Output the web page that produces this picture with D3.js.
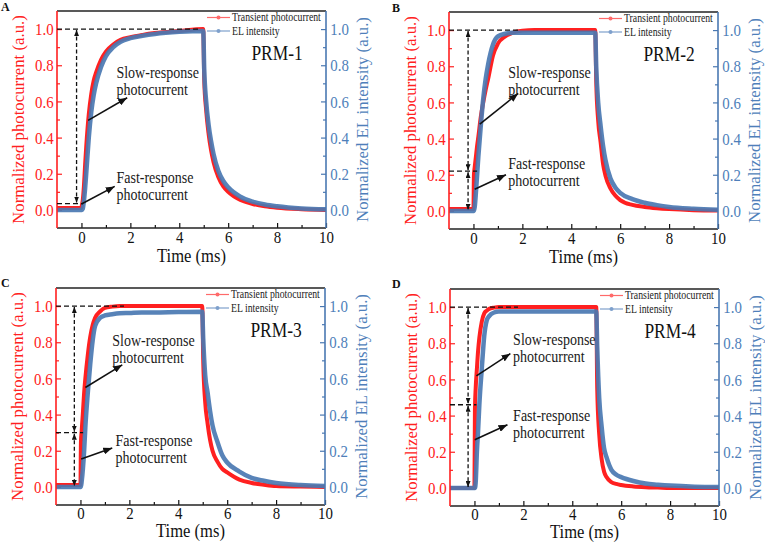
<!DOCTYPE html>
<html>
<head>
<meta charset="utf-8">
<script src="https://cdn.jsdelivr.net/npm/d3@7"></script>
<style>
  body { margin: 0; background: #fff; }
  svg text { font-family: "Liberation Serif", "Times New Roman", serif; }
</style>
</head>
<body>
<svg id="fig" width="765" height="542"></svg>
<script>
// time grid (ms) shared by all the curves
const times = [-1, 0, 0.02, 0.05, 0.1, 0.15, 0.2, 0.3, 0.4, 0.5, 0.6, 0.8, 1.0, 1.3, 1.6, 2, 2.5, 3, 4, 4.98,
               5.02, 5.1, 5.2, 5.3, 5.4, 5.6, 5.8, 6, 6.5, 7, 7.5, 8, 9, 10];

// transient photocurrent (red) and EL intensity (blue)
const pc1 = [0.01, 0.01, 0.03, 0.05, 0.13, 0.25, 0.36, 0.53, 0.64, 0.715, 0.76, 0.83, 0.875, 0.915, 0.94, 0.955, 0.968, 0.978, 0.99, 1.0,
             0.72, 0.55, 0.42, 0.33, 0.265, 0.18, 0.13, 0.1, 0.055, 0.033, 0.02, 0.012, 0.004, 0.0];
const el1 = [0, 0, 0, 0.005, 0.05, 0.12, 0.21, 0.4, 0.54, 0.635, 0.7, 0.79, 0.85, 0.9, 0.93, 0.95, 0.963, 0.973, 0.985, 0.99,
             0.78, 0.6, 0.47, 0.38, 0.31, 0.215, 0.16, 0.125, 0.073, 0.046, 0.03, 0.02, 0.008, 0.003];
const pc2 = [0.01, 0.01, 0.2, 0.24, 0.3, 0.36, 0.41, 0.52, 0.6, 0.67, 0.73, 0.86, 0.925, 0.965, 0.985, 0.997, 1.0, 1.0, 1.0, 1.0,
             0.72, 0.5, 0.38, 0.26, 0.195, 0.125, 0.085, 0.06, 0.033, 0.022, 0.015, 0.01, 0.004, 0.002];
const el2 = [0, 0, 0, 0.02, 0.1, 0.2, 0.3, 0.47, 0.62, 0.73, 0.81, 0.92, 0.965, 0.98, 0.985, 0.985, 0.985, 0.985, 0.985, 0.985,
             0.8, 0.6, 0.47, 0.36, 0.28, 0.18, 0.13, 0.1, 0.065, 0.045, 0.032, 0.022, 0.012, 0.006];
const pc3 = [0.01, 0.01, 0.25, 0.31, 0.41, 0.52, 0.6, 0.73, 0.83, 0.895, 0.935, 0.97, 0.99, 0.997, 1.0, 1.0, 1.0, 1.0, 1.0, 1.0,
             0.7, 0.47, 0.35, 0.26, 0.2, 0.14, 0.1, 0.08, 0.04, 0.022, 0.012, 0.005, 0.002, 0.0];
const el3 = [0, 0, 0, 0.03, 0.1, 0.2, 0.33, 0.52, 0.68, 0.81, 0.89, 0.935, 0.948, 0.955, 0.96, 0.962, 0.965, 0.965, 0.967, 0.968,
             0.82, 0.62, 0.52, 0.42, 0.34, 0.25, 0.175, 0.135, 0.085, 0.05, 0.034, 0.022, 0.01, 0.005];
const pc4 = [0, 0, 0.44, 0.55, 0.66, 0.76, 0.83, 0.92, 0.965, 0.98, 0.99, 0.997, 1.0, 1.0, 1.0, 1.0, 1.0, 1.0, 1.0, 1.0,
             0.55, 0.3, 0.16, 0.09, 0.06, 0.032, 0.022, 0.016, 0.008, 0.004, 0.002, 0.0, 0.0, 0.0];
const el4 = [0, 0, 0, 0.03, 0.2, 0.32, 0.46, 0.66, 0.84, 0.925, 0.95, 0.97, 0.975, 0.975, 0.975, 0.975, 0.975, 0.975, 0.975, 0.975,
             0.78, 0.5, 0.34, 0.22, 0.17, 0.1, 0.073, 0.06, 0.038, 0.024, 0.018, 0.013, 0.007, 0.005];

const panelNames = ["PRM-1", "PRM-2", "PRM-3", "PRM-4"];
const panelLetters = ["A", "B", "C", "D"];
const photocurrent = [pc1, pc2, pc3, pc4];
const elIntensity = [el1, el2, el3, el4];

// annotation values (data units)
const fastLevel = [0.035, 0.22, 0.30, 0.46];
const arrowX = [-0.2, -0.22, -0.25, -0.26];
const topDashEnd = [4.85, 1.83, 1.78, 1.78];
const lowDashEnd = [0.05, 0.15, 0.11, 0.08];
const slowText = [[1.43, 0.76], [1.42, 0.763], [1.3, 0.81], [1.58, 0.82]];
const fastText = [[1.43, 0.18], [1.42, 0.26], [1.43, 0.257], [1.58, 0.40]];
const slowArrow = [[0.27, 0.495, 1.87, 0.62], [0.26, 0.48, 1.83, 0.65], [0.2, 0.55, 1.71, 0.675], [0.08, 0.62, 1.47, 0.743]];
const fastArrow = [[0.0, 0.033, 1.36, 0.13], [0.05, 0.12, 1.33, 0.2], [0.03, 0.154, 1.3, 0.215], [0.01, 0.266, 1.35, 0.349]];

const xTicks = [0, 2, 4, 6, 8, 10];
const xMinor = [1, 3, 5, 7, 9];
const yTicks = [0, 0.2, 0.4, 0.6, 0.8, 1.0];
const yMinor = [0.1, 0.3, 0.5, 0.7, 0.9];

const RED = "#ff2020", BLUE = "#4a78b2";
const SQ = 0.85; // the original figure is squeezed horizontally
const W = 269, H = 217;
const origins = [[57, 11], [449, 12], [56, 288], [450, 289]];

const svg = d3.select("#fig");
const defs = svg.append("defs");

function addMarker(id, len, wid) {
  defs.append("marker")
    .attr("id", id).attr("viewBox", `0 0 ${len} ${wid}`)
    .attr("refX", len).attr("refY", wid / 2)
    .attr("markerWidth", len).attr("markerHeight", wid)
    .attr("markerUnits", "userSpaceOnUse")
    .attr("orient", "auto-start-reverse")
    .append("path").attr("d", `M0,0L${len},${wid / 2}L0,${wid}Z`).attr("fill", "#111");
}
addMarker("headBig", 9, 7);
addMarker("headSmall", 6, 5);

function label(g, x, y, str, size, opts = {}) {
  const tf = opts.rotate ? `translate(${x},${y}) rotate(-90)` : `translate(${x},${y}) scale(${SQ},1)`;
  const t = g.append("text")
    .attr("transform", tf)
    .attr("font-size", size)
    .attr("text-anchor", opts.anchor || "start")
    .attr("fill", opts.fill || "#111")
    .text(str);
  if (opts.dy) t.attr("dy", opts.dy);
  return t;
}

const x = d3.scaleLinear().domain([-1, 10]).range([0, W]);
const y = d3.scaleLinear().domain([-0.1, 1.1]).range([H, 0]);
const line = d3.line().x(d => x(d[0])).y(d => y(d[1])).curve(d3.curveMonotoneX);

panelNames.forEach((name, i) => {
  const [ox, oy] = origins[i];
  const bottomRow = i > 1;
  const g = svg.append("g").attr("transform", `translate(${ox},${oy})`);

  defs.append("clipPath").attr("id", "clip" + i)
    .append("rect").attr("width", W).attr("height", H);

  // axes ticks + labels
  const fmt = d3.format(".1f");
  const bx = g.append("g").attr("transform", `translate(0,${H})`)
    .call(d3.axisBottom(x).tickValues(xTicks).tickSize(-5).tickPadding(bottomRow ? 1.5 : 3));
  const bxMinor = g.append("g").attr("transform", `translate(0,${H})`)
    .call(d3.axisBottom(x).tickValues(xMinor).tickSize(-3).tickFormat(""));
  const ly = g.append("g")
    .call(d3.axisLeft(y).tickValues(yTicks).tickSize(-5).tickPadding(4).tickFormat(fmt));
  const lyMinor = g.append("g")
    .call(d3.axisLeft(y).tickValues(yMinor).tickSize(-3).tickFormat(""));
  const ry = g.append("g").attr("transform", `translate(${W},0)`)
    .call(d3.axisRight(y).tickValues(yTicks).tickSize(-5).tickPadding(5).tickFormat(fmt));
  const ryMinor = g.append("g").attr("transform", `translate(${W},0)`)
    .call(d3.axisRight(y).tickValues(yMinor).tickSize(-3).tickFormat(""));

  g.selectAll(".domain").remove();
  g.selectAll(".tick text")
    .attr("font-size", 17.5).attr("font-family", "Liberation Serif, serif")
    .attr("transform", `scale(${SQ},1)`);
  g.selectAll(".tick line").attr("stroke-width", 1.2);
  [bx, bxMinor].forEach(a => { a.selectAll(".tick line").attr("stroke", "#111"); a.selectAll("text").attr("fill", "#111"); });
  [ly, lyMinor].forEach(a => { a.selectAll(".tick line").attr("stroke", RED); a.selectAll("text").attr("fill", RED); });
  [ry, ryMinor].forEach(a => { a.selectAll(".tick line").attr("stroke", BLUE); a.selectAll("text").attr("fill", "#4f7fba"); });

  // curves
  const plot = g.append("g").attr("clip-path", `url(#clip${i})`);
  const red = times.map((t, k) => [t, photocurrent[i][k]]);
  const blue = times.map((t, k) => [t, elIntensity[i][k]]);
  plot.append("path").attr("d", line(red)).attr("fill", "none")
    .attr("stroke", RED).attr("stroke-width", 4).attr("stroke-linejoin", "round");
  plot.append("path").attr("d", line(blue)).attr("fill", "none")
    .attr("stroke", BLUE).attr("stroke-width", 4.5).attr("stroke-opacity", 0.92).attr("stroke-linejoin", "round");

  // spines
  g.append("line").attr("x1", 0).attr("x2", W).attr("y1", 0).attr("y2", 0).attr("stroke", "#222").attr("stroke-width", 1.4);
  g.append("line").attr("x1", 0).attr("x2", W).attr("y1", H).attr("y2", H).attr("stroke", "#222").attr("stroke-width", 1.4);
  g.append("line").attr("x1", 0).attr("x2", 0).attr("y1", 0).attr("y2", H).attr("stroke", RED).attr("stroke-width", 1.6);
  g.append("line").attr("x1", W).attr("x2", W).attr("y1", 0).attr("y2", H).attr("stroke", BLUE).attr("stroke-width", 1.6);

  // dashed guides
  const dash = "5,3";
  g.append("line").attr("x1", 0).attr("x2", x(topDashEnd[i])).attr("y1", y(1)).attr("y2", y(1))
    .attr("stroke", "#111").attr("stroke-width", 1.4).attr("stroke-dasharray", dash);
  g.append("line").attr("x1", 0).attr("x2", x(lowDashEnd[i])).attr("y1", y(fastLevel[i])).attr("y2", y(fastLevel[i]))
    .attr("stroke", "#111").attr("stroke-width", 1.4).attr("stroke-dasharray", dash);
  const segs = i === 0 ? [[1, fastLevel[i]]] : [[1, fastLevel[i]], [fastLevel[i], 0]];
  segs.forEach(([a, b]) => {
    g.append("line").attr("x1", x(arrowX[i])).attr("x2", x(arrowX[i]))
      .attr("y1", y(a) + 1).attr("y2", y(b) - 1)
      .attr("stroke", "#111").attr("stroke-width", 1.3).attr("stroke-dasharray", "4,2.5")
      .attr("marker-start", "url(#headSmall)").attr("marker-end", "url(#headSmall)");
  });

  // solid arrows
  [slowArrow[i], fastArrow[i]].forEach(([x1, y1, x2, y2]) => {
    g.append("line").attr("x1", x(x1)).attr("y1", y(y1)).attr("x2", x(x2)).attr("y2", y(y2))
      .attr("stroke", "#111").attr("stroke-width", 1.6).attr("marker-end", "url(#headBig)");
  });

  // annotation texts
  [[slowText[i], "Slow-response"], [fastText[i], "Fast-response"]].forEach(([[tx, ty], s]) => {
    label(g, x(tx), y(ty) + 5.5, s, 16.5, { fill: "#1a1a1a" });
    label(g, x(tx), y(ty) + 22.2, "photocurrent", 16.5, { fill: "#1a1a1a" });
  });

  label(g, x(6.95), y(0.865) + 7, name, 20.5, { fill: "#111" });

  // legend
  const lg = g.append("g").attr("transform", `translate(${W - 119},0)`);
  [["Transient photocurrent", "#ff6a6a", 6.5], ["EL intensity", "#7ea0cc", 20]].forEach(([s, c, ly0]) => {
    lg.append("line").attr("x1", 0).attr("x2", 23).attr("y1", ly0).attr("y2", ly0).attr("stroke", c).attr("stroke-width", 1.2);
    lg.append("circle").attr("cx", 11.5).attr("cy", ly0).attr("r", 2).attr("fill", c);
    label(lg, 25, ly0 + 3.8, s, 11.5, { fill: "#222" });
  });

  // axis titles
  label(g, W / 2, H + (bottomRow ? 31.5 : 34), "Time (ms)", 19.5, { anchor: "middle" });
  label(g, -38, H / 2, "Normalized photocurrent (a.u.)", 16.8, { anchor: "middle", rotate: true, fill: RED, dy: "0.3em" });
  label(g, W + 37, H / 2, "Normalized EL intensity (a.u.)", 16.8, { anchor: "middle", rotate: true, fill: "#4f7fba", dy: "0.3em" });

  // panel letter
  g.append("text").attr("x", -ox + (i % 2 ? 392 : 1)).attr("y", oy > 100 ? -1 : 0)
    .attr("font-family", "Liberation Sans, Arial, sans-serif").attr("font-weight", "bold")
    .attr("font-size", 12).attr("fill", "#111").text(panelLetters[i]);
});
</script>
</body>
</html>
